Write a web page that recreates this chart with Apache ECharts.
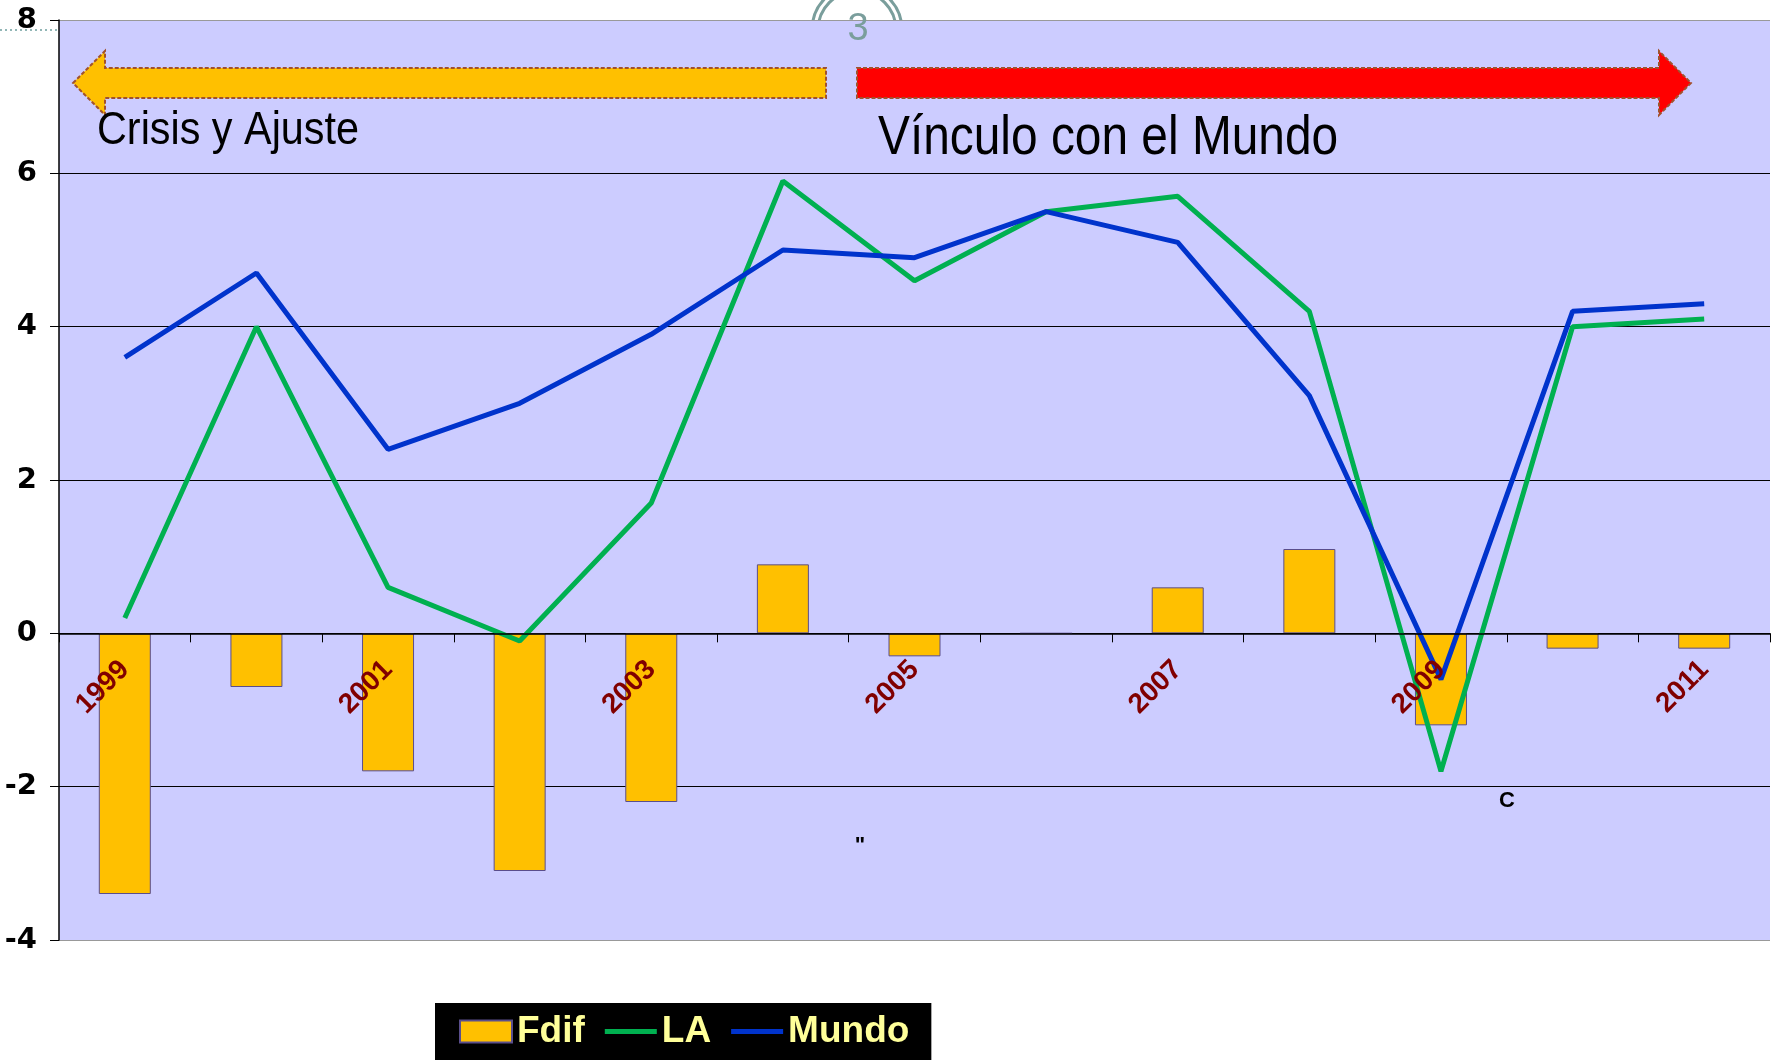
<!DOCTYPE html>
<html>
<head>
<meta charset="utf-8">
<script src="https://cdn.jsdelivr.net/npm/echarts@6/dist/echarts.min.js"></script>
<style>
  html, body { margin: 0; padding: 0; background: #fff; }
  #chart { width: 1773px; height: 1060px; }
</style>
</head>
<body>
<div id="chart"></div>
<script>
const years = ["1999", "2000", "2001", "2002", "2003", "2004", "2005", "2006", "2007", "2008", "2009", "2010", "2011"];
const fdif = [-3.4, -0.7, -1.8, -3.1, -2.2, 0.9, -0.3, 0, 0.6, 1.1, -1.2, -0.2, -0.2];
const la = [0.2, 4.0, 0.6, -0.1, 1.7, 5.9, 4.6, 5.5, 5.7, 4.2, -1.8, 4.0, 4.1];
const mundo = [3.6, 4.7, 2.4, 3.0, 3.9, 5.0, 4.9, 5.5, 5.1, 3.1, -0.6, 4.2, 4.3];

const yMin = -4, yMax = 8;
const gridTop = 20, gridBottom = 120, chartH = 1060;

const chart = echarts.init(document.getElementById("chart"));

// el eje x va sobre el cero, con las etiquetas pegadas a el
const plotH = chartH - gridTop - gridBottom;
const zeroOffset = -plotH * (0 - yMin) / (yMax - yMin);

// icono de linea para la leyenda (sin simbolo)
const lineIcon = "path://M0,8.5h52v5H0z M0,0h0.01v0.01H0z M0,21.99h0.01v0.01H0z";

// flechas y textos de la diapositiva
const arrowStroke = { stroke: "#A0522D", lineWidth: 2, lineDash: [4, 2] };
const graphics = [
  // circulo del numero de pagina (queda detras del area del grafico)
  { type: "circle", z: -10, shape: { cx: 857, cy: 30, r: 45 }, style: { fill: null, stroke: "#7A9E9C", lineWidth: 3 } },
  { type: "circle", z: -10, shape: { cx: 857, cy: 30, r: 39 }, style: { fill: null, stroke: "#7A9E9C", lineWidth: 3 } },
  { type: "text", z: 50, x: 858, y: 30, style: { text: "3", fill: "#7A9E9C", fontSize: 38, fontFamily: "Liberation Sans", textAlign: "center", textVerticalAlign: "middle", verticalAlign: "middle" } },
  { type: "line", shape: { x1: 0, y1: 30, x2: 58, y2: 30 }, style: { stroke: "#6E9E9E", lineWidth: 1.5, lineDash: [2, 3] } },
  {
    type: "polygon", z: 40,
    shape: { points: [[73, 83], [105, 51], [105, 68], [826, 68], [826, 98], [105, 98], [105, 115]] },
    style: Object.assign({ fill: "#FFC000" }, arrowStroke)
  },
  {
    type: "polygon", z: 40,
    shape: { points: [[857, 68], [1659, 68], [1659, 51], [1691, 83], [1659, 115], [1659, 98], [857, 98]] },
    style: Object.assign({ fill: "#FF0000" }, arrowStroke)
  },
  { type: "text", z: 50, x: 97, y: 131, scaleX: 0.88, style: { text: "Crisis y Ajuste", fill: "#000", fontSize: 47, fontFamily: "Liberation Sans", textVerticalAlign: "middle", verticalAlign: "middle" } },
  { type: "text", z: 50, x: 878, y: 139, scaleX: 0.87, style: { text: "Vínculo con el Mundo", fill: "#000", fontSize: 55, fontFamily: "Liberation Sans", textVerticalAlign: "middle", verticalAlign: "middle" } },
  { type: "text", z: 50, x: 860, y: 846, style: { text: "\"", fill: "#000", fontSize: 22, fontWeight: "bold", fontFamily: "Liberation Sans", textAlign: "center", textVerticalAlign: "middle", verticalAlign: "middle" } },
  { type: "text", z: 50, x: 1507, y: 801, style: { text: "C", fill: "#000", fontSize: 22, fontWeight: "bold", fontFamily: "Liberation Sans", textAlign: "center", textVerticalAlign: "middle", verticalAlign: "middle" } }
];

chart.setOption({
  animation: false,
  textStyle: { fontFamily: "Liberation Sans" },
  grid: {
    left: 59, right: 3, top: gridTop, bottom: gridBottom,
    show: true, backgroundColor: "#CCCCFF", borderWidth: 0
  },
  legend: {
    left: 435, top: 1003,
    backgroundColor: "#000",
    padding: [10, 22, 16, 24],
    itemWidth: 52, itemHeight: 22, itemGap: 20,
    selectedMode: false,
    textStyle: { color: "#FFFF99", fontSize: 37, fontWeight: "bold", padding: [0, 0, 0, 0] },
    data: [
      { name: "Fdif", icon: "rect" },
      { name: "LA", icon: lineIcon },
      { name: "Mundo", icon: lineIcon }
    ]
  },
  xAxis: {
    type: "category",
    data: years,
    z: 10,
    offset: zeroOffset,
    axisLine: { onZero: false, lineStyle: { color: "#000", width: 1.5 } },
    axisTick: { show: true, interval: 0, length: 9, lineStyle: { color: "#000" } },
    axisLabel: {
      interval: 1, rotate: 45, margin: 32,
      color: "#800000", fontSize: 28, fontWeight: "bold"
    },
    splitLine: { show: false }
  },
  yAxis: {
    type: "value",
    min: yMin, max: yMax, interval: 2,
    axisLine: { show: true, lineStyle: { color: "#000", width: 1.5 } },
    axisTick: { show: true, length: 9, lineStyle: { color: "#000" } },
    axisLabel: { color: "#000", fontSize: 29, fontWeight: "bold", fontFamily: "DejaVu Sans", margin: 22 },
    splitLine: {
      show: true,
      lineStyle: { color: ["#999", "#000", "#000", "#000", "#000", "#000", "#999"], width: 1.2 }
    }
  },
  series: [
    {
      name: "Fdif", type: "bar", data: fdif, barWidth: 52,
      itemStyle: { color: "#FFC000", borderColor: "#5A4E8C", borderWidth: 1 }
    },
    {
      name: "LA", type: "line", data: la, symbol: "none",
      lineStyle: { color: "#00B050", width: 5 }, itemStyle: { color: "#00B050" }
    },
    {
      name: "Mundo", type: "line", data: mundo, symbol: "none",
      lineStyle: { color: "#0033CC", width: 5 }, itemStyle: { color: "#0033CC" }
    }
  ],
  graphic: graphics
});
</script>
</body>
</html>
